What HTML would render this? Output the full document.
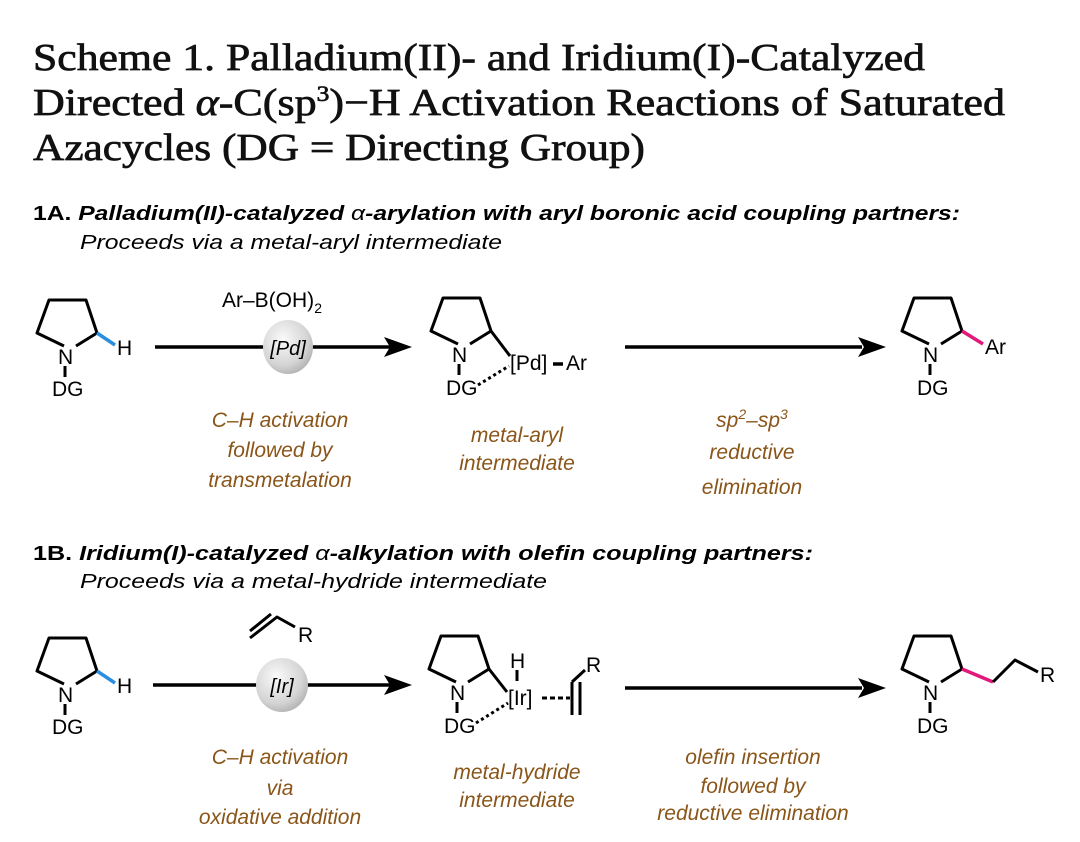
<!DOCTYPE html>
<html><head><meta charset="utf-8"><style>
html,body{margin:0;padding:0;background:#fff;}
svg{display:block;}
.t{font-family:"Liberation Serif",serif;font-size:38px;fill:#111;stroke:#111;stroke-width:0.7;}
.h{font-family:"Liberation Sans",sans-serif;font-size:20px;font-style:italic;font-weight:bold;fill:#000;}
.s{font-family:"Liberation Sans",sans-serif;font-size:20px;font-style:italic;fill:#000;}
.a{font-family:"Liberation Sans",sans-serif;font-size:21px;fill:#000;}
.b{font-family:"Liberation Sans",sans-serif;font-size:21px;font-style:italic;fill:#8a5518;text-anchor:middle;}
.bd{stroke:#000;stroke-width:3;fill:none;stroke-linejoin:round;}
</style></head><body>
<svg width="1080" height="842" viewBox="0 0 1080 842" xmlns="http://www.w3.org/2000/svg">
<defs>
<radialGradient id="g" cx="0.4" cy="0.35" r="0.7"><stop offset="0" stop-color="#fafafa"/><stop offset="0.7" stop-color="#d4d4d4"/><stop offset="1" stop-color="#b0b0b0"/></radialGradient>
</defs>
<text class="t" x="33" y="70" textLength="892" lengthAdjust="spacingAndGlyphs">Scheme 1. Palladium(II)- and Iridium(I)-Catalyzed</text>
<text class="t" x="33" y="115" textLength="972" lengthAdjust="spacingAndGlyphs">Directed <tspan font-style="italic">α</tspan>-C(sp<tspan font-size="22" dy="-14">3</tspan><tspan dy="14">)−H Activation Reactions of Saturated</tspan></text>
<text class="t" x="33" y="160" textLength="612" lengthAdjust="spacingAndGlyphs">Azacycles (DG = Directing Group)</text>

<text class="h" x="33" y="220" textLength="927" lengthAdjust="spacingAndGlyphs"><tspan font-style="normal">1A.</tspan> Palladium(II)-catalyzed <tspan font-weight="normal">α</tspan>-arylation with aryl boronic acid coupling partners:</text>
<text class="s" x="80" y="249" textLength="422" lengthAdjust="spacingAndGlyphs">Proceeds via a metal-aryl intermediate</text>

<polyline class="bd" points="64,346 37,333 49,300 86,300 97,333 76,346"/>
<line x1="97" y1="333" x2="115" y2="345" stroke="#2a8ee0" stroke-width="3.5"/>
<text class="a" x="117" y="355">H</text>
<text class="a" x="58" y="364">N</text>
<line x1="65" y1="366" x2="65" y2="377" stroke="#000" stroke-width="3"/>
<text class="a" x="52" y="396">DG</text>

<line x1="155" y1="347" x2="390" y2="347" stroke="#000" stroke-width="3.5"/>
<polygon points="412,347 384,337 390,347 384,357" fill="#000"/>
<text class="a" x="222" y="307">Ar–B(OH)<tspan font-size="14" dy="6">2</tspan></text>
<ellipse cx="288" cy="347" rx="25" ry="27" fill="url(#g)"/>
<text class="s" x="288" y="355" text-anchor="middle">[Pd]</text>

<polyline class="bd" points="458,344 431,331 443,298 480,298 491,331 470,344"/>
<line x1="491" y1="331" x2="510" y2="356" stroke="#000" stroke-width="3"/>
<text class="a" x="452" y="362">N</text>
<line x1="459" y1="364" x2="459" y2="375" stroke="#000" stroke-width="3"/>
<text class="a" x="446" y="395">DG</text>
<line x1="478" y1="385" x2="509" y2="366" stroke="#000" stroke-width="3" stroke-dasharray="3,3"/>
<text class="a" x="510" y="370">[Pd]</text>
<line x1="553" y1="364" x2="563" y2="364" stroke="#000" stroke-width="3.5"/>
<text class="a" x="566" y="370">Ar</text>

<line x1="625" y1="347" x2="862" y2="347" stroke="#000" stroke-width="3.5"/>
<polygon points="886,347 858,337 864,347 858,357" fill="#000"/>

<polyline class="bd" points="929,344 902,331 914,298 951,298 962,331 941,344"/>
<line x1="962" y1="331" x2="983" y2="344" stroke="#e0197a" stroke-width="3.5"/>
<text class="a" x="985" y="354">Ar</text>
<text class="a" x="923" y="362">N</text>
<line x1="930" y1="364" x2="930" y2="375" stroke="#000" stroke-width="3"/>
<text class="a" x="917" y="395">DG</text>

<text class="b" x="280" y="427">C–H activation</text>
<text class="b" x="280" y="457">followed by</text>
<text class="b" x="280" y="487">transmetalation</text>
<text class="b" x="517" y="442">metal-aryl</text>
<text class="b" x="517" y="470">intermediate</text>
<text class="b" x="752" y="427">sp<tspan font-size="14" dy="-8">2</tspan><tspan dy="8">–sp</tspan><tspan font-size="14" dy="-8">3</tspan></text>
<text class="b" x="752" y="459">reductive</text>
<text class="b" x="752" y="494">elimination</text>

<text class="h" x="33" y="560" textLength="780" lengthAdjust="spacingAndGlyphs"><tspan font-style="normal">1B.</tspan> Iridium(I)-catalyzed <tspan font-weight="normal">α</tspan>-alkylation with olefin coupling partners:</text>
<text class="s" x="80" y="588" textLength="467" lengthAdjust="spacingAndGlyphs">Proceeds via a metal-hydride intermediate</text>

<polyline class="bd" points="64,684 37,671 49,638 86,638 97,671 76,684"/>
<line x1="97" y1="671" x2="115" y2="683" stroke="#2a8ee0" stroke-width="3.5"/>
<text class="a" x="117" y="693">H</text>
<text class="a" x="58" y="702">N</text>
<line x1="65" y1="704" x2="65" y2="715" stroke="#000" stroke-width="3"/>
<text class="a" x="52" y="734">DG</text>

<line x1="153" y1="685" x2="390" y2="685" stroke="#000" stroke-width="3.5"/>
<polygon points="412,685 384,675 390,685 384,695" fill="#000"/>
<polyline class="bd" points="250,638 277,617 295,627"/>
<line x1="250" y1="631" x2="271" y2="614" stroke="#000" stroke-width="3"/>
<text class="a" x="298" y="642">R</text>
<ellipse cx="282" cy="685" rx="26" ry="27" fill="url(#g)"/>
<text class="s" x="282" y="693" text-anchor="middle">[Ir]</text>

<polyline class="bd" points="456,682 429,669 441,636 478,636 489,669 468,682"/>
<line x1="489" y1="669" x2="507" y2="692" stroke="#000" stroke-width="3"/>
<text class="a" x="450" y="700">N</text>
<line x1="457" y1="702" x2="457" y2="713" stroke="#000" stroke-width="3"/>
<text class="a" x="444" y="733">DG</text>
<line x1="476" y1="723" x2="508" y2="703" stroke="#000" stroke-width="3" stroke-dasharray="3,3"/>
<text class="a" x="510" y="668">H</text>
<line x1="517" y1="670" x2="517" y2="681" stroke="#000" stroke-width="3"/>
<text class="a" x="508" y="705">[Ir]</text>
<line x1="542" y1="698" x2="570" y2="698" stroke="#000" stroke-width="3" stroke-dasharray="5,3"/>
<line x1="572" y1="682" x2="572" y2="715" stroke="#000" stroke-width="3"/>
<line x1="580" y1="682" x2="580" y2="715" stroke="#000" stroke-width="3"/>
<polyline class="bd" points="572,682 585,670"/>
<text class="a" x="586" y="672">R</text>

<line x1="625" y1="688" x2="862" y2="688" stroke="#000" stroke-width="3.5"/>
<polygon points="886,688 858,678 864,688 858,698" fill="#000"/>

<polyline class="bd" points="929,682 902,669 914,636 951,636 962,669 941,682"/>
<line x1="962" y1="669" x2="993" y2="682" stroke="#e0197a" stroke-width="3.5"/>
<polyline class="bd" points="993,682 1015,660 1038,672"/>
<text class="a" x="1040" y="682">R</text>
<text class="a" x="923" y="700">N</text>
<line x1="930" y1="702" x2="930" y2="713" stroke="#000" stroke-width="3"/>
<text class="a" x="917" y="733">DG</text>

<text class="b" x="280" y="764">C–H activation</text>
<text class="b" x="280" y="795">via</text>
<text class="b" x="280" y="824">oxidative addition</text>
<text class="b" x="517" y="779">metal-hydride</text>
<text class="b" x="517" y="807">intermediate</text>
<text class="b" x="753" y="764">olefin insertion</text>
<text class="b" x="753" y="793">followed by</text>
<text class="b" x="753" y="820">reductive elimination</text>
</svg>
</body></html>
